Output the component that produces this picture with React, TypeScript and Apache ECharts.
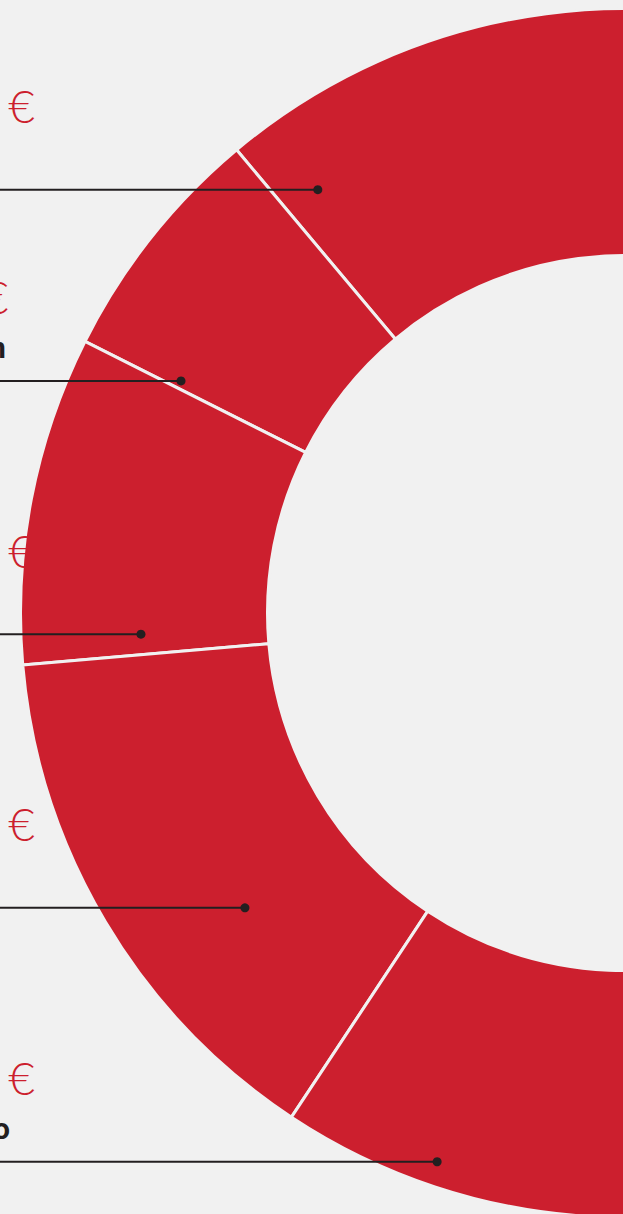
import React, { useEffect, useRef } from "react";
import * as echarts from "echarts";

// ---- data ----
const categories = ["Personal", "Investigación", "Marketing", "Logística", "Equipamiento"];
const amounts = [474300, 85100, 115400, 188200, 450600];

// ---- layout: anchor of each leader line (polar: radius in px, angle in deg, counter-clockwise from top) ----
const anchorRadius = [523, 501, 484.5, 481, 580];
const anchorAngle = [35.97, 62.4, 92.5, 127.8, 161.1];

const RED = "#cc1f2e";
const BG = "#f1f1f1";
const DARK = "#231f20";
const CX = 625;
const CY = 613;
const LABEL_X = -175;

const fmt = (v: number) => String(v).replace(/\B(?=(\d{3})+(?!\d))/g, ".") + " €";

export default function App() {
  const ref = useRef<HTMLDivElement>(null);
  useEffect(() => {
    document.body.style.margin = "0";
    document.body.style.background = BG;
    const chart = echarts.init(ref.current!, null, { renderer: "svg" });
    const option: any = {
      animation: false,
      backgroundColor: BG,
      polar: { center: [CX, CY], radius: 600 },
      angleAxis: { type: "value", min: 0, max: 360, startAngle: 90, clockwise: false, show: false },
      radiusAxis: { type: "value", min: 0, max: 600, show: false },
      series: [
        {
          type: "pie",
          z: 2,
          center: [CX, CY],
          radius: [357.5, 604.5],
          startAngle: 0,
          clockwise: false,
          silent: true,
          label: { show: false },
          labelLine: { show: false },
          itemStyle: { color: RED, borderColor: BG, borderWidth: 3 },
          data: categories.map((n, i) => ({ name: n, value: amounts[i] })),
        },
        {
          type: "custom",
          z: 5,
          coordinateSystem: "polar",
          silent: true,
          data: anchorRadius.map((r, i) => [r, anchorAngle[i]]),
          renderItem: (params: any, api: any) => {
            const i = params.dataIndex;
            const pt = api.coord([api.value(0), api.value(1)]);
            return {
              type: "group",
              children: [
                {
                  type: "text",
                  x: LABEL_X,
                  y: pt[1] - 84,
                  style: {
                    text: fmt(amounts[i]),
                    fill: RED,
                    fontFamily: "Lato",
                    fontWeight: 300,
                    fontSize: 46,
                    align: "left",
                    verticalAlign: "middle",
                  },
                },
                {
                  type: "text",
                  x: LABEL_X,
                  y: pt[1] - 33,
                  style: {
                    text: categories[i],
                    fill: DARK,
                    fontFamily: "Roboto",
                    fontWeight: 700,
                    fontSize: 30,
                    align: "left",
                    verticalAlign: "middle",
                  },
                },
                {
                  type: "line",
                  shape: { x1: -40, y1: pt[1], x2: pt[0], y2: pt[1] },
                  style: { stroke: DARK, lineWidth: 2 },
                },
                {
                  type: "circle",
                  shape: { cx: pt[0], cy: pt[1], r: 4.5 },
                  style: { fill: DARK },
                },
              ],
            };
          },
        },
      ],
    };
    chart.setOption(option);
    return () => chart.dispose();
  }, []);
  return <div ref={ref} style={{ width: 623, height: 1214 }} />;
}
